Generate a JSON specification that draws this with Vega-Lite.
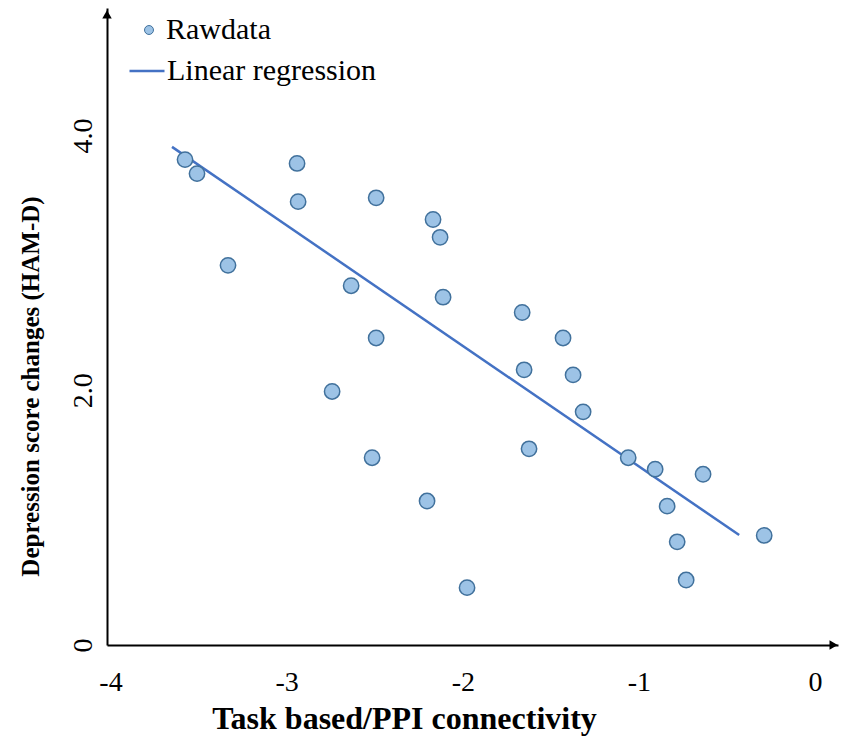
{
  "$schema": "https://vega.github.io/schema/vega-lite/v6.json",
  "width": 731,
  "height": 637,
  "autosize": "none",
  "padding": {"left": 107, "top": 8, "right": 3, "bottom": 93},
  "background": "white",
  "config": {
    "view": {"stroke": null},
    "font": "Liberation Serif",
    "axis": {
      "grid": false,
      "ticks": false,
      "tickSize": 0,
      "domainColor": "black",
      "domainWidth": 2,
      "labelFont": "Liberation Serif",
      "labelColor": "black",
      "titleFont": "Liberation Serif",
      "titleColor": "black",
      "labelFlush": false,
      "labelOverlap": false,
      "labelBound": false
    },
    "legend": {
      "labelFont": "Liberation Serif",
      "labelColor": "black",
      "labelLimit": 0,
      "padding": 0
    }
  },
  "datasets": {
    "raw": [
      {"x": -3.577, "y": 3.81, "series": "Rawdata"},
      {"x": -3.509, "y": 3.70, "series": "Rawdata"},
      {"x": -3.333, "y": 2.98, "series": "Rawdata"},
      {"x": -2.941, "y": 3.78, "series": "Rawdata"},
      {"x": -2.935, "y": 3.48, "series": "Rawdata"},
      {"x": -2.492, "y": 3.51, "series": "Rawdata"},
      {"x": -2.634, "y": 2.82, "series": "Rawdata"},
      {"x": -2.492, "y": 2.41, "series": "Rawdata"},
      {"x": -2.742, "y": 1.99, "series": "Rawdata"},
      {"x": -2.515, "y": 1.47, "series": "Rawdata"},
      {"x": -2.169, "y": 3.34, "series": "Rawdata"},
      {"x": -2.129, "y": 3.20, "series": "Rawdata"},
      {"x": -2.112, "y": 2.73, "series": "Rawdata"},
      {"x": -2.203, "y": 1.13, "series": "Rawdata"},
      {"x": -1.976, "y": 0.45, "series": "Rawdata"},
      {"x": -1.663, "y": 2.61, "series": "Rawdata"},
      {"x": -1.652, "y": 2.16, "series": "Rawdata"},
      {"x": -1.624, "y": 1.54, "series": "Rawdata"},
      {"x": -1.431, "y": 2.41, "series": "Rawdata"},
      {"x": -1.374, "y": 2.12, "series": "Rawdata"},
      {"x": -1.317, "y": 1.83, "series": "Rawdata"},
      {"x": -1.061, "y": 1.47, "series": "Rawdata"},
      {"x": -0.908, "y": 1.38, "series": "Rawdata"},
      {"x": -0.636, "y": 1.34, "series": "Rawdata"},
      {"x": -0.840, "y": 1.09, "series": "Rawdata"},
      {"x": -0.783, "y": 0.81, "series": "Rawdata"},
      {"x": -0.732, "y": 0.51, "series": "Rawdata"},
      {"x": -0.289, "y": 0.86, "series": "Rawdata"}
    ],
    "fit": [
      {"x": -3.651, "y": 3.91, "series": "Linear regression"},
      {"x": -0.431, "y": 0.863, "series": "Linear regression"}
    ],
    "arrows": [
      {"x": -4.02, "y": 4.95, "shape": "triangle-up"},
      {"x": 0.105, "y": 0, "shape": "triangle-right"}
    ]
  },
  "layer": [
    {
      "data": {"name": "fit"},
      "mark": {"type": "line", "strokeWidth": 2.5},
      "encoding": {
        "x": {
          "field": "x", "type": "quantitative",
          "scale": {"domain": [-4.02, 0.13], "nice": false, "zero": false},
          "axis": {
            "values": [-4, -3, -2, -1, 0],
            "labelExpr": "'' + datum.value",
            "labelFontSize": 28,
            "labelPadding": 37,
            "labelBaseline": "middle",
            "title": "Task based/PPI connectivity",
            "titleFontSize": 32,
            "titleFontWeight": "bold",
            "titleX": 297,
            "titleY": 73,
            "titleAlign": "center",
            "titleBaseline": "middle"
          }
        },
        "y": {
          "field": "y", "type": "quantitative",
          "scale": {"domain": [0, 5], "nice": false, "zero": false},
          "axis": {
            "values": [0, 2, 4],
            "labelExpr": "datum.value == 0 ? '0' : datum.value + '.0'",
            "labelAngle": -90,
            "labelAlign": "center",
            "labelBaseline": "middle",
            "labelPadding": 24,
            "labelFontSize": 28,
            "title": "Depression score changes (HAM-D)",
            "titleFontSize": 25,
            "titleFontWeight": "bold",
            "titleAngle": -90,
            "titleX": -77,
            "titleY": 378,
            "titleAlign": "center",
            "titleBaseline": "middle"
          }
        },
        "stroke": {
          "field": "series", "type": "nominal",
          "scale": {"range": ["#4472C4"]},
          "legend": {
            "title": null,
            "orient": "none",
            "legendX": 21,
            "legendY": 44,
            "symbolType": "stroke",
            "symbolSize": 1225,
            "symbolStrokeWidth": 2.5,
            "labelFontSize": 30,
            "labelOffset": 1
          }
        }
      }
    },
    {
      "data": {"name": "raw"},
      "mark": {"type": "circle", "size": 235, "stroke": "#41719C", "strokeWidth": 1.5, "opacity": 1},
      "encoding": {
        "x": {"field": "x", "type": "quantitative"},
        "y": {"field": "y", "type": "quantitative"},
        "fill": {
          "field": "series", "type": "nominal",
          "scale": {"range": ["#9DC3E6"]},
          "legend": {
            "title": null,
            "orient": "none",
            "legendX": 27,
            "legendY": 7,
            "symbolType": "circle",
            "symbolSize": 80,
            "symbolStrokeColor": "#41719C",
            "symbolStrokeWidth": 1,
            "labelFontSize": 30,
            "labelOffset": 2
          }
        }
      }
    },
    {
      "data": {"name": "arrows"},
      "mark": {"type": "point", "filled": true, "color": "black", "size": 90, "opacity": 1},
      "encoding": {
        "x": {"field": "x", "type": "quantitative"},
        "y": {"field": "y", "type": "quantitative"},
        "shape": {"field": "shape", "type": "nominal", "scale": null, "legend": null}
      }
    }
  ]
}
